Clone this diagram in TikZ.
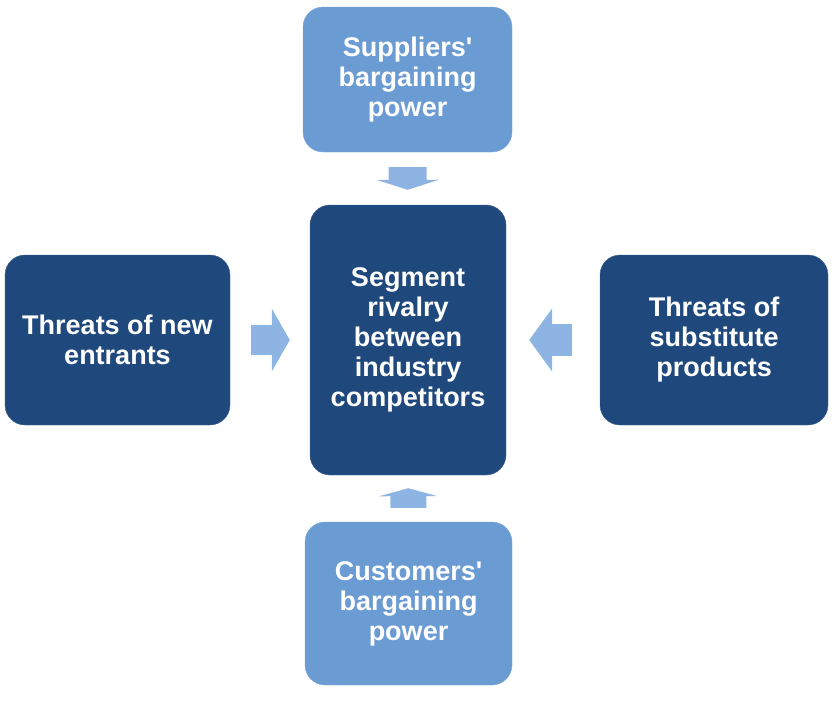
\documentclass[tikz,border=0pt]{standalone}
\usepackage{fontspec}
\setmainfont{Liberation Sans}
\usetikzlibrary{arrows.meta}
\definecolor{lightblue}{HTML}{6A9BD2}
\definecolor{navyblue}{HTML}{1F497D}
\definecolor{arrowblue}{HTML}{8DB4E2}

\begin{document}
\begin{tikzpicture}[x=1pt,y=-1pt,line join=bevel,
  box/.style={rounded corners=20pt,text=white,align=center,inner sep=0pt,
    font=\bfseries\fontsize{27}{30}\selectfont},
  outerbox/.style={box,fill=lightblue,draw=lightblue!85!white},
  innerbox/.style={box,fill=navyblue,draw=navyblue!85!white},
  force/.style={arrowblue,line width=#1},
]
\useasboundingbox (0,0) rectangle (834,723);
%%
\node (node_top) at (407.5,79.5) [outerbox,minimum width=209pt,minimum height=145pt] {Suppliers\textquotesingle\\bargaining\\power};
  \node (node_center) at (408,340) [innerbox,minimum width=196pt,minimum height=270pt] {Segment\\rivalry\\between\\industry\\competitors};
  \node (node_left) at (117.5,340) [innerbox,minimum width=225pt,minimum height=170pt] {Threats of new\\entrants};
  \node (node_right) at (714,340) [innerbox,minimum width=228pt,minimum height=170pt] {Threats of\\substitute\\products};
  \node (node_bottom) at (408.5,603.5) [outerbox,minimum width=207pt,minimum height=163pt] {Customers\textquotesingle\\bargaining\\power};
  \draw [force=38pt,-{Triangle[width=62pt,length=10pt]},shorten <=15pt,shorten >=15pt] (node_top) -- (node_center);
  \draw [force=30pt,-{Triangle[width=62pt,length=18pt]},shorten <=21pt,shorten >=20pt] (node_left) -- (node_center);
  \draw [force=32pt,-{Triangle[width=62pt,length=23pt]},shorten <=28pt,shorten >=23pt] (node_right) -- (node_center);
  \draw [force=36pt,-{Triangle[width=58pt,length=8pt]},shorten <=14pt,shorten >=13pt] (node_bottom) -- (node_center);
%
\end{tikzpicture}
\end{document}
